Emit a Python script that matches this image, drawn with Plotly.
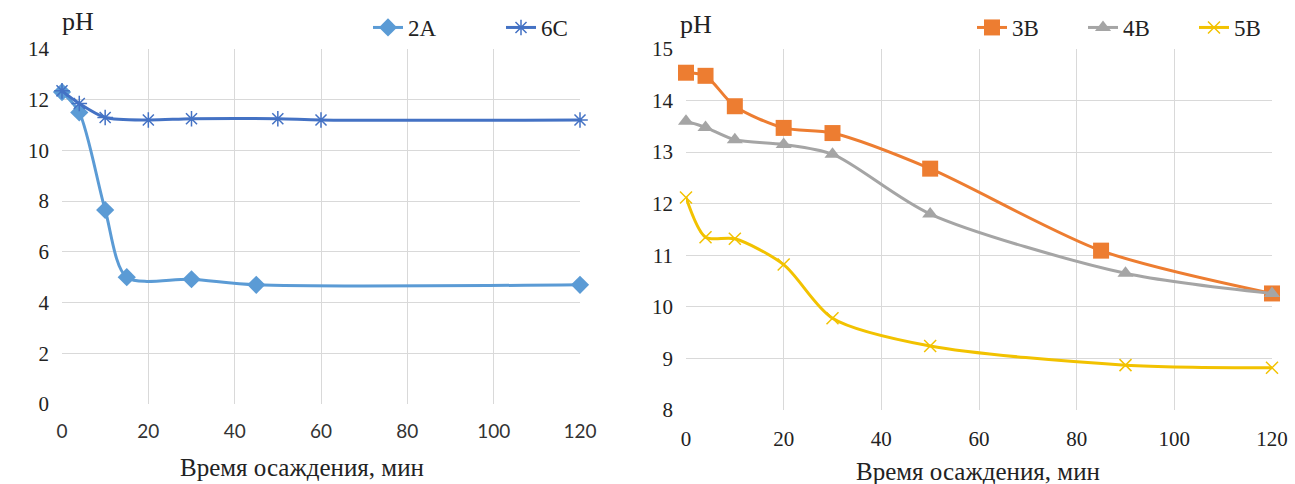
import plotly.graph_objects as go

# Left chart data
x_2A = [0, 4, 10, 15, 30, 45, 120]
y_2A = [12.3, 11.5, 7.65, 5.0, 4.92, 4.7, 4.7]
x_6C = [0, 4, 10, 20, 30, 50, 60, 120]
y_6C = [12.35, 11.85, 11.3, 11.2, 11.25, 11.25, 11.2, 11.2]

# Right chart data
x_3B = [0, 4, 10, 20, 30, 50, 85, 120]
y_3B = [14.54, 14.48, 13.89, 13.47, 13.37, 12.68, 11.09, 10.26]
x_4B = [0, 4, 10, 20, 30, 50, 90, 120]
y_4B = [13.6, 13.48, 13.24, 13.15, 12.96, 11.8, 10.65, 10.26]
x_5B = [0, 4, 10, 20, 30, 50, 90, 120]
y_5B = [12.12, 11.35, 11.32, 10.82, 9.78, 9.24, 8.87, 8.82]

left_yticks = [0, 2, 4, 6, 8, 10, 12, 14]
right_yticks = [8, 9, 10, 11, 12, 13, 14, 15]
xticks = [0, 20, 40, 60, 80, 100, 120]

W, H = 1295, 484
SERIF = "Liberation Serif"
SANS = "Lato"

fig = go.Figure()

def add(x, y, name, color, symbol, size, xa, ya, legend, mlw=0, mcolor=None):
    fig.add_trace(go.Scatter(
        x=x, y=y, name=name, mode="lines+markers", cliponaxis=False,
        line=dict(color=color, width=3, shape="spline", smoothing=0.8),
        marker=dict(symbol=symbol, size=size, color=mcolor or color,
                    line=dict(color=mcolor or color, width=mlw)),
        xaxis=xa, yaxis=ya, legend=legend))

add(x_2A, y_2A, "2A", "#5B9BD5", "diamond", 14, "x", "y", "legend")
add(x_6C, y_6C, "6C", "#4472C4", "asterisk-open", 13, "x", "y", "legend", mlw=1.5)
add(x_3B, y_3B, "3B", "#ED7D31", "square", 16, "x2", "y2", "legend2")
add(x_4B, y_4B, "4B", "#A5A5A5", "triangle-up", 14, "x2", "y2", "legend2")
add(x_5B, y_5B, "5B", "#F2C200", "x-thin-open", 12, "x2", "y2", "legend2", mlw=1.5)

grid = "#D9D9D9"
serif_tick = dict(family=SERIF, size=21, color="#222")
sans_tick = dict(family=SANS, size=19, color="#333")

common_x = dict(range=[0, 120], tickvals=xticks, showgrid=True, gridcolor=grid,
                gridwidth=1, zeroline=False, showline=False,
                ticklabelstandoff=14, fixedrange=True)
common_y = dict(showgrid=True, gridcolor=grid, gridwidth=1, zeroline=False,
                showline=False, tickfont=serif_tick, ticklabelstandoff=12, fixedrange=True)

fig.update_layout(
    width=W, height=H,
    margin=dict(l=0, r=0, t=0, b=0, autoexpand=False),
    paper_bgcolor="white", plot_bgcolor="white",
    font=dict(family=SERIF, size=18, color="#222"),
    xaxis=dict(domain=[62 / W, 580 / W], anchor="y", tickfont=sans_tick, **common_x),
    yaxis=dict(domain=[1 - 404 / H, 1 - 49 / H], anchor="x", range=[0, 14],
               tickvals=left_yticks, **common_y),
    xaxis2=dict(domain=[686 / W, 1272 / W], anchor="y2", tickfont=serif_tick, **common_x),
    yaxis2=dict(domain=[1 - 410 / H, 1 - 49 / H], anchor="x2", range=[8, 15],
                tickvals=right_yticks, **common_y),
    legend=dict(orientation="h", x=368 / W, y=1 - 6 / H, xanchor="left", yanchor="top",
                font=dict(family=SERIF, size=23), bgcolor="rgba(0,0,0,0)",
                itemwidth=30, entrywidthmode="pixels", entrywidth=88),
    legend2=dict(orientation="h", x=972 / W, y=1 - 6 / H, xanchor="left", yanchor="top",
                 font=dict(family=SERIF, size=23), bgcolor="rgba(0,0,0,0)",
                 itemwidth=30, entrywidthmode="pixels", entrywidth=66),
    annotations=[
        dict(text="pH", x=60 / W, y=1 - 22 / H, xref="paper", yref="paper",
             xanchor="left", yanchor="middle", showarrow=False,
             font=dict(family=SERIF, size=26, color="#222")),
        dict(text="pH", x=678 / W, y=1 - 25 / H, xref="paper", yref="paper",
             xanchor="left", yanchor="middle", showarrow=False,
             font=dict(family=SERIF, size=26, color="#222")),
        dict(text="Время осаждения, мин", x=302 / W, y=1 - 467 / H, xref="paper",
             yref="paper", xanchor="center", yanchor="middle", showarrow=False,
             font=dict(family=SERIF, size=25, color="#222")),
        dict(text="Время осаждения, мин", x=978 / W, y=1 - 471 / H, xref="paper",
             yref="paper", xanchor="center", yanchor="middle", showarrow=False,
             font=dict(family=SERIF, size=25, color="#222")),
    ],
)

fig.write_html("out.html")
